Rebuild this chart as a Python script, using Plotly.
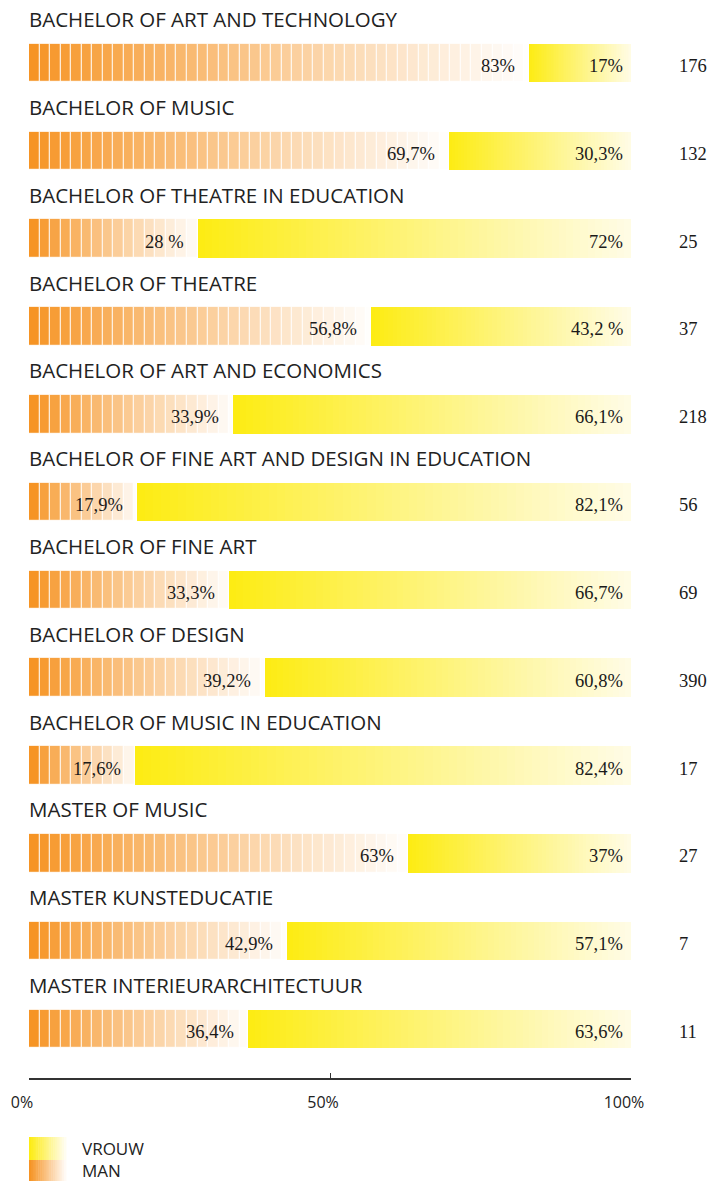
import plotly.graph_objects as go

# data
programmes = [
    "BACHELOR OF ART AND TECHNOLOGY",
    "BACHELOR OF MUSIC",
    "BACHELOR OF THEATRE IN EDUCATION",
    "BACHELOR OF THEATRE",
    "BACHELOR OF ART AND ECONOMICS",
    "BACHELOR OF FINE ART AND DESIGN IN EDUCATION",
    "BACHELOR OF FINE ART",
    "BACHELOR OF DESIGN",
    "BACHELOR OF MUSIC IN EDUCATION",
    "MASTER OF MUSIC",
    "MASTER KUNSTEDUCATIE",
    "MASTER INTERIEURARCHITECTUUR",
]
man_pct = [83, 69.7, 28, 56.8, 33.9, 17.9, 33.3, 39.2, 17.6, 63, 42.9, 36.4]
vrouw_pct = [17, 30.3, 72, 43.2, 66.1, 82.1, 66.7, 60.8, 82.4, 37, 57.1, 63.6]
man_labels = ["83%", "69,7%", "28 %", "56,8%", "33,9%", "17,9%",
              "33,3%", "39,2%", "17,6%", "63%", "42,9%", "36,4%"]
vrouw_labels = ["17%", "30,3%", "72%", "43,2 %", "66,1%", "82,1%",
                "66,7%", "60,8%", "82,4%", "37%", "57,1%", "63,6%"]
totals = [176, 132, 25, 37, 218, 56, 69, 390, 17, 27, 7, 11]
tick_vals = [0, 50, 100]
tick_text = ["0%", "50%", "100%"]

ORANGE = (246, 148, 36)
ORANGE_END = (255, 255, 255)
YELLOW = (253, 236, 20)
YELLOW_END = (255, 252, 232)

W, H = 710, 1181
L, R, B = 29, 79, 103
PLOT_W = W - L - R
PLOT_H = H - B

SANS = "'Open Sans', Lato, sans-serif"
SERIF = "'Liberation Serif', 'DejaVu Serif', serif"


def mix(c0, c1, t):
    t = max(0.0, min(1.0, t))
    r, g, b = (round(a + (b_ - a) * t) for a, b_ in zip(c0, c1))
    return f"rgb({r},{g},{b})"


ypos = list(range(len(programmes)))
bar_w = 0.44
fig = go.Figure()

# man segment: striped slices, fading orange -> white
step = 1.75
n_man = int(max(man_pct) / step) + 1
for k in range(n_man):
    base = k * step
    xs, cols = [], []
    for m in man_pct:
        if base < m - 0.3:
            xs.append(m - base)
            cols.append(mix(ORANGE, ORANGE_END, (base / m) ** 0.9))
        else:
            xs.append(None)
            cols.append("white")
    fig.add_trace(go.Bar(
        y=ypos, x=xs, base=base, orientation="h", width=bar_w,
        marker=dict(color=cols, line=dict(color="rgba(255,255,255,0.8)", width=1.3)),
        showlegend=False, hoverinfo="skip",
    ))

# vrouw segment: smooth yellow -> pale fade
n_v = 60
for k in range(n_v):
    t = k / n_v
    bases = [m + v * t for m, v in zip(man_pct, vrouw_pct)]
    xs = [m + v - b for m, v, b in zip(man_pct, vrouw_pct, bases)]
    fig.add_trace(go.Bar(
        y=ypos, x=xs, base=bases, orientation="h", width=bar_w,
        marker=dict(color=mix(YELLOW, YELLOW_END, t), line=dict(width=0)),
        showlegend=False, hoverinfo="skip",
    ))

annotations = []
for i, name in enumerate(programmes):
    annotations.append(dict(x=0, y=i - 0.5, xref="x", yref="y", text=name,
                            xanchor="left", yanchor="middle", showarrow=False,
                            xshift=-2,
                            font=dict(family=SANS, size=20.5, color="#222")))
    annotations.append(dict(x=man_pct[i] - 2, y=i, xref="x", yref="y",
                            text=man_labels[i], xanchor="right", yanchor="middle",
                            yshift=-3, showarrow=False,
                            font=dict(family=SERIF, size=18.5, color="#1a1a1a")))
    annotations.append(dict(x=99, y=i, xref="x", yref="y",
                            text=vrouw_labels[i], xanchor="right", yanchor="middle",
                            yshift=-3, showarrow=False,
                            font=dict(family=SERIF, size=18.5, color="#1a1a1a")))
    annotations.append(dict(x=(677 - L) / PLOT_W, y=i, xref="paper", yref="y",
                            text=str(totals[i]), xanchor="left", yanchor="middle",
                            yshift=-3, showarrow=False,
                            font=dict(family=SERIF, size=18.5, color="#1a1a1a")))


def px_x(px):
    return (px - L) / PLOT_W


def px_y(py):
    return (PLOT_H - py) / PLOT_H


# legend swatches (gradient made of thin strips)
shapes = []
n_sw = 20
for k in range(n_sw):
    x0 = 29 + 37 * k / n_sw
    x1 = 29 + 37 * (k + 1) / n_sw + 0.5
    t = k / (n_sw - 1)
    shapes.append(dict(type="rect", xref="paper", yref="paper",
                       x0=px_x(x0), x1=px_x(x1), y0=px_y(1160), y1=px_y(1137),
                       fillcolor=mix(YELLOW, (255, 253, 240), t), line=dict(width=0)))
    shapes.append(dict(type="rect", xref="paper", yref="paper",
                       x0=px_x(x0), x1=px_x(x1), y0=px_y(1181), y1=px_y(1160),
                       fillcolor=mix(ORANGE, (255, 250, 245), t), line=dict(width=0)))

annotations.append(dict(x=px_x(80), y=px_y(1148), xref="paper", yref="paper",
                        text="VROUW", xanchor="left", yanchor="middle", showarrow=False,
                        font=dict(family=SANS, size=17, color="#222")))
annotations.append(dict(x=px_x(80), y=px_y(1170), xref="paper", yref="paper",
                        text="MAN", xanchor="left", yanchor="middle", showarrow=False,
                        font=dict(family=SANS, size=17, color="#222")))

y_top = -63 / 87.8
y_bot = 11 + (1078 - 1029) / 87.8

fig.update_layout(
    width=W, height=H,
    margin=dict(l=L, r=R, t=0, b=B),
    paper_bgcolor="white", plot_bgcolor="white",
    barmode="overlay", bargap=0,
    annotations=annotations, shapes=shapes,
    xaxis=dict(range=[0, 100], tickvals=tick_vals, ticktext=tick_text,
               ticks="inside", ticklen=5, tickwidth=1.2, tickcolor="#333",
               showline=True, linecolor="#333", linewidth=1.5,
               showgrid=False, zeroline=False, fixedrange=True,
               ticklabelstandoff=9, ticklabelshift=-7,
               tickfont=dict(family=SANS, size=16, color="#222")),
    yaxis=dict(range=[y_bot, y_top], visible=False, fixedrange=True),
    showlegend=False,
)

fig.write_html("out.html", config={"displayModeBar": False},
               post_script="document.body.style.margin='0';")
